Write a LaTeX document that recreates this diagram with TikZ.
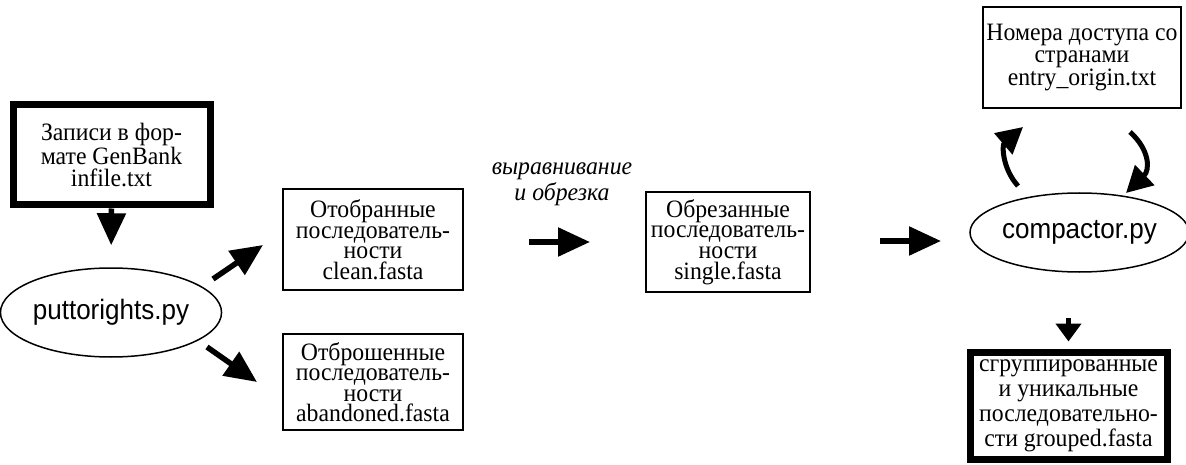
\documentclass[tikz,border=0pt]{standalone}
\usepackage{fontspec}
\setmainfont[FakeStretch=0.95]{Liberation Serif}
\setsansfont[FakeStretch=0.93]{Liberation Sans}
\usetikzlibrary{arrows.meta,shapes.geometric}
\newcommand\boxfont{\fontsize{25}{20.5}\selectfont}
\newcommand\progfont{\sffamily\fontsize{28}{30}\selectfont}
\begin{document}
\begin{tikzpicture}[x=1pt,y=-1pt,
  box/.style={draw, line width=1.5pt, inner sep=0pt, align=center, font=\boxfont},
  thickbox/.style={box, line width=7pt},
  prog/.style={draw, ellipse, line width=1.5pt, inner sep=0pt, font=\progfont},
  arr/.style={line width=5.5pt, -{Triangle[length=32pt,width=28pt]}},
  smallarr/.style={line width=5pt, -{Triangle[length=18pt,width=25pt]}},
  carr/.style={line width=5pt, -{Triangle[length=26pt,width=27pt]}},
  lbl/.style={align=center, inner sep=0pt, font=\fontsize{25}{26}\selectfont\itshape}]
\useasboundingbox (0,0) rectangle (1186,465);
% nodes
\node[thickbox, minimum width=197pt, minimum height=100pt, font=\fontsize{25}{21.5}\selectfont] (b1) at (111.5,155)
  {Записи в фор-\\мате GenBank\\infile.txt};
\node[prog, minimum width=178pt, minimum height=89pt] (p1) at (111,312.5) {puttorights.py};
\node[box, minimum width=180pt, minimum height=101pt] (b2) at (373,239.5)
  {Отобранные\\последователь-\\ности\\clean.fasta};
\node[box, minimum width=180pt, minimum height=96pt] (b3) at (373,382)
  {Отброшенные\\последователь-\\ности\\abandoned.fasta};
\node[lbl] (l1) at (562,184) {выравнивание\\и обрезка};
\node[box, minimum width=164pt, minimum height=100pt] (b4) at (728,242)
  {Обрезанные\\последователь-\\ности\\single.fasta};
\node[prog, minimum width=199pt, minimum height=79pt] (p2) at (1079.5,232.5) {compactor.py};
\node[box, minimum width=198pt, minimum height=101pt, font=\fontsize{25}{22.5}\selectfont] (b5) at (1082,57.5)
  {Номера доступа со\\странами\\entry\_origin.txt};
\node[thickbox, minimum width=197pt, minimum height=107pt, font=\fontsize{25}{25}\selectfont] (b6) at (1068.5,405.5)
  {сгруппированные\\и уникальные\\последовательно-\\сти grouped.fasta};
% arrow end points
\coordinate (a1s) at (213,279); \coordinate (a1e) at (263,245);
\coordinate (a2s) at (207,347); \coordinate (a2e) at (257,382);
\coordinate (a3s) at (529,242); \coordinate (a3e) at (590,242);
\coordinate (a4s) at (880,241); \coordinate (a4e) at (941,241);
\coordinate (c1s) at (1018,186); \coordinate (c1e) at (1023,127);
\coordinate (c2s) at (1130,132); \coordinate (c2e) at (1126,193);
\coordinate (d1s) at (1068.5,318);
% connectors
\draw[arr, shorten >=22pt] (b1.south) -- (p1.north);
\draw[arr] (a1s) -- (a1e);
\draw[arr] (a2s) -- (a2e);
\draw[arr] (a3s) -- (a3e);
\draw[arr] (a4s) -- (a4e);
\draw[smallarr, shorten >=7pt] (d1s) -- (b6.north);
\draw[carr] (c1s) .. controls (1002,168) and (1002,145) .. (c1e);
\draw[carr] (c2s) .. controls (1150,150) and (1150,170) .. (c2e);
\end{tikzpicture}
\end{document}
